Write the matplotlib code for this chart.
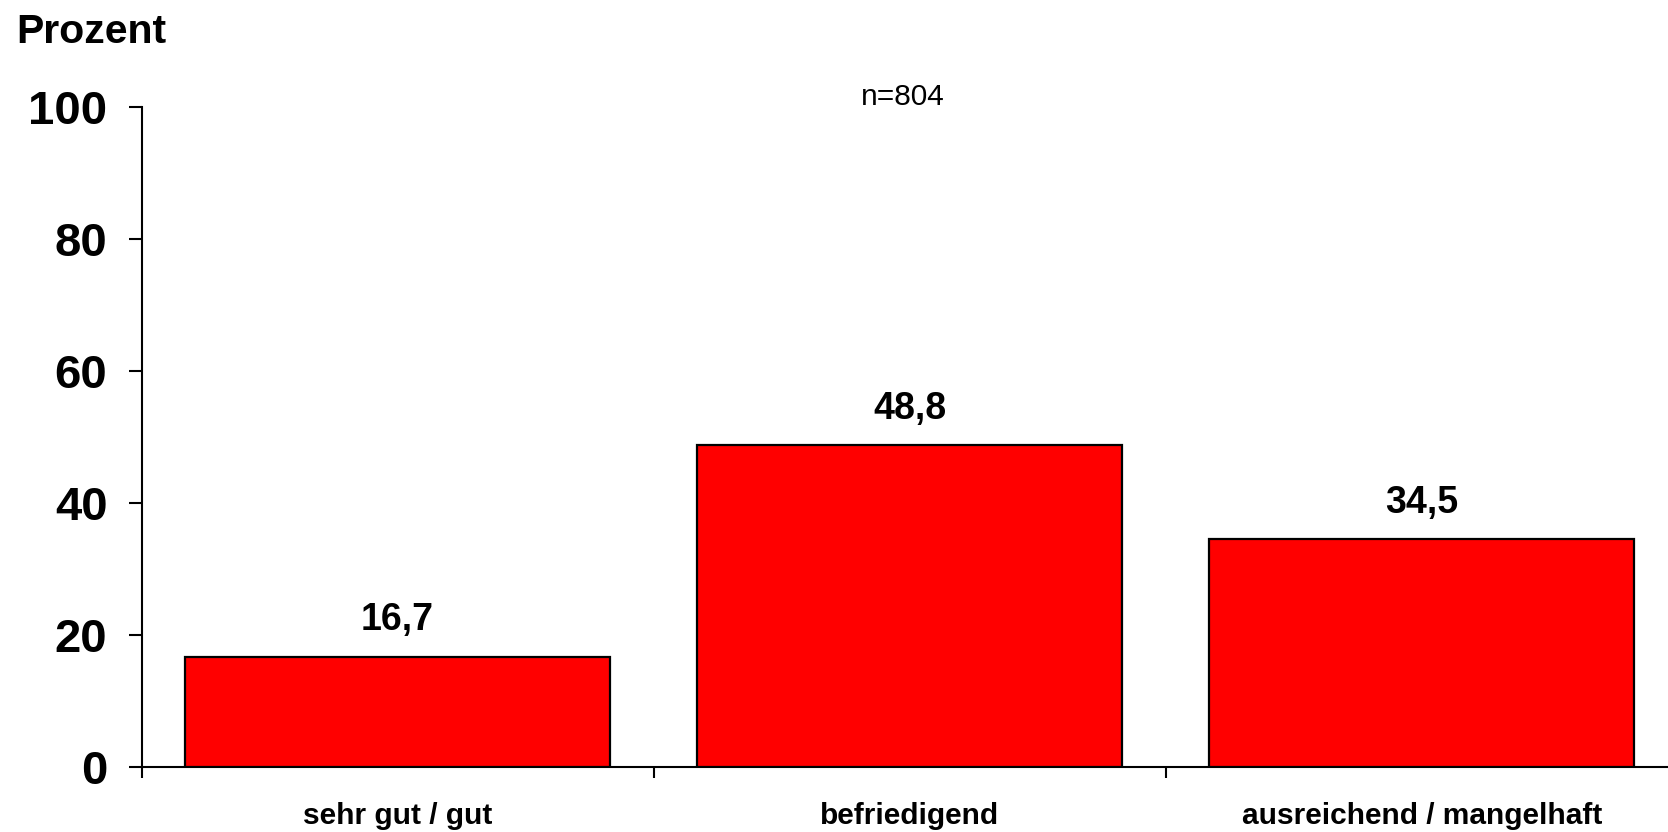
import matplotlib
matplotlib.use("Agg")
import matplotlib.pyplot as plt
import numpy as np

# Daten
categories = ["sehr gut / gut", "befriedigend", "ausreichend / mangelhaft"]
values = [16.7, 48.8, 34.5]
value_labels = ["16,7", "48,8", "34,5"]
y_ticks = [0, 20, 40, 60, 80, 100]
n_text = "n=804"
y_title = "Prozent"

plt.rcParams['font.family'] = ['Liberation Sans', 'DejaVu Sans']

fig = plt.figure(figsize=(16.68, 8.32), dpi=100)
# axes reaches a bit past the right edge, like the original
ax = fig.add_axes([141.5 / 1668, 65 / 832, (1678 - 141.5) / 1668, (767 - 107.4) / 832])

x = np.arange(len(categories))
bars = ax.bar(x, values, width=0.83, color='#ff0000', edgecolor='black', linewidth=1.6, zorder=3)

for xi, v, lab in zip(x, values, value_labels):
    ax.annotate(lab, xy=(xi, v), xytext=(0, 19), textcoords='offset points',
                ha='center', va='baseline', fontsize=27, fontweight='bold')

ax.set_xlim(-0.5, len(categories) - 0.5)
ax.set_ylim(0, 100)

ax.spines['top'].set_visible(False)
ax.spines['right'].set_visible(False)
ax.spines['left'].set_linewidth(1.5)
ax.spines['bottom'].set_linewidth(1.5)

ax.set_yticks(y_ticks)
ax.set_yticklabels([str(t) for t in y_ticks], fontsize=34, fontweight='bold')
ax.tick_params(axis='y', direction='out', length=9.5, width=1.5, pad=15)

# category separators as major ticks, names as minor tick labels
ax.set_xticks(np.arange(-0.5, len(categories) + 0.5, 1.0))
ax.set_xticklabels([])
ax.set_xticks(x, minor=True)
ax.set_xticklabels(categories, minor=True, fontsize=21.5, fontweight='bold')
ax.tick_params(axis='x', which='major', direction='out', length=8, width=1.5)
ax.tick_params(axis='x', which='minor', length=0, pad=25)

fig.text(16 / 1668, 1 - 43 / 832, y_title, ha='left', va='baseline',
         fontsize=29.5, fontweight='bold')
fig.text(903 / 1668, 1 - 105 / 832, n_text, ha='center', va='baseline', fontsize=21.5)

fig.savefig("out.png", dpi=100)
